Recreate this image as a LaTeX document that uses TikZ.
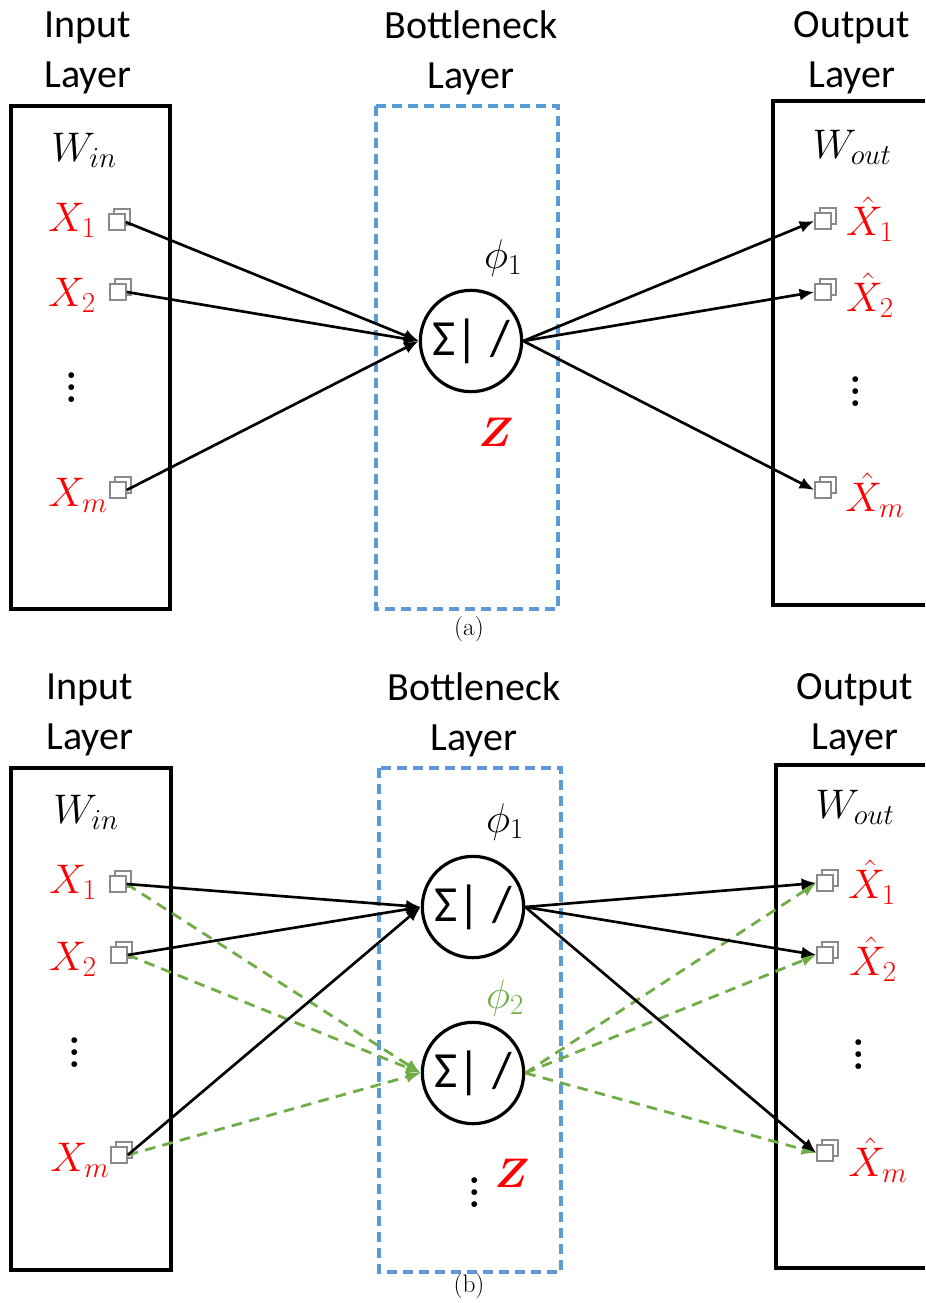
\RequirePackage{fix-cm}
\documentclass[tikz,border=0pt]{standalone}
\usepackage{amsmath}
\usepackage{bm}
\usepackage{fontspec}
\newfontfamily\cf{Carlito}
\usetikzlibrary{arrows.meta,shadows}
\definecolor{bnblue}{HTML}{5B9BD5}
\definecolor{gr}{HTML}{70AD47}
\definecolor{icongray}{HTML}{8A8A8A}
\newcommand{\bigvdots}{\vbox{\fontsize{30}{9}\selectfont\bfseries\baselineskip=9pt\lineskiplimit=-30pt\lineskip=0pt\hbox{.}\hbox{.}\hbox{.}}}
\begin{document}
\begin{tikzpicture}[x=0.75pt,y=-0.75pt,
  box/.style={draw=black, line width=2.7pt},
  bneck/.style={draw=bnblue, line width=2.5pt, dash pattern=on 7.5pt off 4.5pt},
  lbl/.style={font=\cf\fontsize{30}{37.5}\selectfont, align=center, inner sep=0pt},
  mlbl/.style={font=\fontsize{31}{36}\selectfont, inner sep=0pt},
  var/.style={mlbl, text=red},
  vdot/.style={inner sep=0pt},
  icon/.style={draw=icongray, fill=white, line width=1.6pt, minimum size=11.5pt, inner sep=0pt,
    copy shadow={shadow xshift=3.8pt, shadow yshift=3.8pt, draw=icongray, fill=white}},
  neuron/.style={circle, draw=black, line width=2.4pt, minimum size=76pt, inner sep=0pt,
    font=\cf\fontsize{38}{46}\selectfont},
  arr/.style={line width=2pt, -{Latex[length=11pt,width=9pt]}},
  garr/.style={arr, draw=gr, line width=2.1pt, dash pattern=on 8pt off 5.5pt},
  captxt/.style={font=\fontsize{19}{22}\selectfont, inner sep=0pt}
]
\useasboundingbox (0,0) rectangle (925,1303);

% ================= (a) =================
\node[lbl] (inA) at (88,53) {Input\\Layer};
\node[lbl] (bnA) at (471,53) {Bottleneck\\Layer};
\node[lbl] (outA) at (852,53) {Output\\Layer};

\draw[box] (11,106) rectangle (170,609);
\draw[bneck] (376,106) rectangle (558,609);
\draw[box] (925,101) -- (773,101) -- (773,605) -- (925,605);

\node[mlbl] (winA) at (84,150) {$W_{in}$};
\node[mlbl] (woutA) at (852,147) {$W_{out}$};

\node[var] (x1A) at (72,220) {$X_1$};
\node[var] (x2A) at (72,295) {$X_2$};
\node[vdot] (dlA) at (72,388) {\bigvdots};
\node[var] (xmA) at (78,495) {$X_m$};

\node[icon] (i1A) at (117,222) {};
\node[icon] (i2A) at (118,292) {};
\node[icon] (imA) at (118,490) {};

\node[neuron] (nA) at (471,341) {Σ| /};
\node[mlbl] (phiA) at (503,258) {$\phi_1$};
\node[mlbl, text=red] (zA) at (496,432) {$\bm{Z}$};

\node[icon] (o1A) at (823,221) {};
\node[icon] (o2A) at (823,292) {};
\node[icon] (omA) at (823,490) {};

\node[var] (y1A) at (870,219) {$\hat{X}_1$};
\node[var] (y2A) at (870,295) {$\hat{X}_2$};
\node[vdot] (drA) at (856,392) {\bigvdots};
\node[var] (ymA) at (875,495) {$\hat{X}_m$};

\draw[arr] (i1A.east) -- (nA.west);
\draw[arr] (i2A.east) -- (nA.west);
\draw[arr] (imA.east) -- (nA.west);
\draw[arr] (nA.east) -- (o1A.west);
\draw[arr] (nA.east) -- (o2A.west);
\draw[arr] (nA.east) -- (omA.west);

\node[captxt] (capA) at (469,629) {(a)};

% ================= (b) =================
\node[lbl] (inB) at (90,715) {Input\\Layer};
\node[lbl] (bnB) at (474,715) {Bottleneck\\Layer};
\node[lbl] (outB) at (855,715) {Output\\Layer};

\draw[box] (11,768) rectangle (171,1270);
\draw[bneck] (379,768) rectangle (561,1272);
\draw[box] (925,765) -- (776,765) -- (776,1268) -- (925,1268);

\node[mlbl] (winB) at (86,812) {$W_{in}$};
\node[mlbl] (woutB) at (855,807) {$W_{out}$};

\node[var] (x1B) at (73,882) {$X_1$};
\node[var] (x2B) at (73,959) {$X_2$};
\node[vdot] (dlB) at (75,1053) {\bigvdots};
\node[var] (xmB) at (80,1160) {$X_m$};

\node[icon] (i1B) at (118,884) {};
\node[icon] (i2B) at (119,955) {};
\node[icon] (imB) at (119,1155) {};

\node[neuron] (n1B) at (473,907) {Σ| /};
\node[neuron] (n2B) at (473,1073) {Σ| /};
\node[mlbl] (phi1B) at (505,822) {$\phi_1$};
\node[mlbl, text=gr] (phi2B) at (505,998) {$\phi_2$};
\node[vdot] (dmB) at (475,1193) {\bigvdots};
\node[mlbl, text=red] (zB) at (512,1173) {$\bm{Z}$};

\node[icon] (o1B) at (825,883) {};
\node[icon] (o2B) at (825,955) {};
\node[icon] (omB) at (825,1153) {};

\node[var] (y1B) at (872,882) {$\hat{X}_1$};
\node[var] (y2B) at (873,959) {$\hat{X}_2$};
\node[vdot] (drB) at (859,1055) {\bigvdots};
\node[var] (ymB) at (878,1160) {$\hat{X}_m$};

\draw[garr] (i1B.east) -- (n2B.west);
\draw[garr] (i2B.east) -- (n2B.west);
\draw[garr] (imB.east) -- (n2B.west);
\draw[garr] (n2B.east) -- (o1B.west);
\draw[garr] (n2B.east) -- (o2B.west);
\draw[garr] (n2B.east) -- (omB.west);

\draw[arr] (i1B.east) -- (n1B.west);
\draw[arr] (i2B.east) -- (n1B.west);
\draw[arr] (imB.east) -- (n1B.west);
\draw[arr] (n1B.east) -- (o1B.west);
\draw[arr] (n1B.east) -- (o2B.west);
\draw[arr] (n1B.east) -- (omB.west);

\node[captxt] (capB) at (469,1286) {(b)};
\end{tikzpicture}
\end{document}
